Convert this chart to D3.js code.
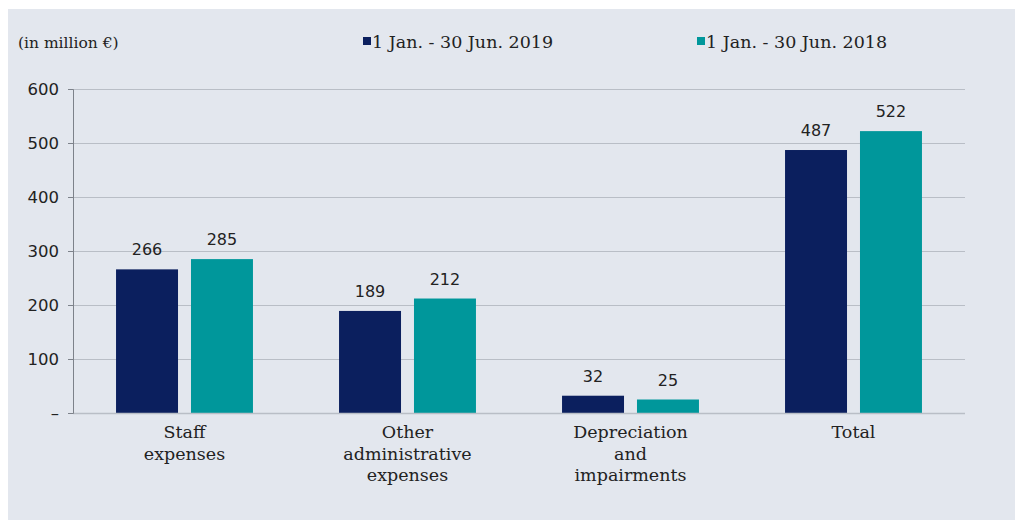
<!DOCTYPE html>
<html><head><meta charset="utf-8">
<script src="https://cdn.jsdelivr.net/npm/d3@7"></script>
<style>
html,body{margin:0;padding:0;background:#fff;}
svg{display:block;}
</style></head>
<body>
<svg id="chart" width="1016" height="520"></svg>
<script>
const categories = [["Staff","expenses"],["Other","administrative","expenses"],["Depreciation","and","impairments"],["Total"]];
const categoryKeys = ["Staff expenses","Other administrative expenses","Depreciation and impairments","Total"];
const seriesNames = ["1 Jan. - 30 Jun. 2019","1 Jan. - 30 Jun. 2018"];
const values2019 = [266,189,32,487];
const values2018 = [285,212,25,522];
const yTicks = [0,100,200,300,400,500,600];
const yTickLabels = ["–","100","200","300","400","500","600"];
const colors = ["#0b1f5e","#00979b"];

(function(){
const svg = d3.select("#chart");
svg.append("rect").attr("x",8).attr("y",9).attr("width",1007).attr("height",511).attr("fill","#e3e7ee");

const pL=73,pR=965,pT=89,pB=413;
const y = d3.scaleLinear().domain([0,600]).range([pB,pT]);
const x0 = d3.scaleBand().domain(categoryKeys).range([pL,pR]).paddingInner(0.386).paddingOuter(0.193);
const x1 = d3.scaleBand().domain(seriesNames).range([0,x0.bandwidth()]).paddingInner(0.173);

svg.append("g").selectAll("line").data(yTicks.filter(d=>d>0)).join("line")
  .attr("x1",pL).attr("x2",pR).attr("y1",d=>Math.round(y(d))+0.5).attr("y2",d=>Math.round(y(d))+0.5)
  .attr("stroke","#b9bec6").attr("stroke-width",1);

const series = [values2019, values2018];
series.forEach((vals,si)=>{
  svg.append("g").selectAll("rect").data(vals).join("rect")
    .attr("x",(d,i)=>x0(categoryKeys[i])+x1(seriesNames[si]))
    .attr("width",x1.bandwidth())
    .attr("y",d=>y(d)).attr("height",d=>pB-y(d))
    .attr("fill",colors[si]);
  svg.append("g").selectAll("text").data(vals).join("text")
    .attr("x",(d,i)=>x0(categoryKeys[i])+x1(seriesNames[si])+x1.bandwidth()/2)
    .attr("y",d=>y(d)-14)
    .attr("text-anchor","middle")
    .attr("font-family","DejaVu Sans, sans-serif").attr("font-size",16).attr("fill","#222")
    .text(d=>d);
});

svg.append("line").attr("x1",pL).attr("x2",pR).attr("y1",pB+0.5).attr("y2",pB+0.5)
  .attr("stroke","#b9bec6").attr("stroke-width",1.5);

const yAxis = d3.axisLeft(y).tickValues(yTicks).tickFormat((d,i)=>yTickLabels[i]).tickSize(5).tickPadding(9);
const ga = svg.append("g").attr("transform",`translate(${pL},0)`).call(yAxis);
ga.select(".domain").attr("stroke","#7d828a");
ga.selectAll(".tick line").attr("stroke","#7d828a");
ga.selectAll(".tick text").attr("font-family","DejaVu Sans, sans-serif").attr("font-size",16.5).attr("fill","#222");

const cat = svg.append("g").selectAll("text").data(categories).join("text")
  .attr("x",(d,i)=>x0(categoryKeys[i])+x0.bandwidth()/2)
  .attr("y",438)
  .attr("text-anchor","middle")
  .attr("font-family","DejaVu Serif, serif").attr("font-size",17.5).attr("fill","#222");
cat.each(function(lines){
  const cx = d3.select(this).attr("x");
  d3.select(this).selectAll("tspan").data(lines).join("tspan")
    .attr("x",cx).attr("dy",(d,j)=>j===0?0:21.5).text(d=>d);
});

svg.append("text").attr("x",18).attr("y",48).attr("font-family","DejaVu Serif, serif").attr("font-size",15.5).attr("fill","#222").text("(in million €)");

const legendX = [363,697];
seriesNames.forEach((s,i)=>{
  svg.append("rect").attr("x",legendX[i]).attr("y",37).attr("width",8).attr("height",8).attr("fill",colors[i]);
  svg.append("text").attr("x",legendX[i]+9).attr("y",48).attr("font-family","DejaVu Serif, serif").attr("font-size",17.5).attr("fill","#222").text(s);
});
})();
</script>
</body></html>
